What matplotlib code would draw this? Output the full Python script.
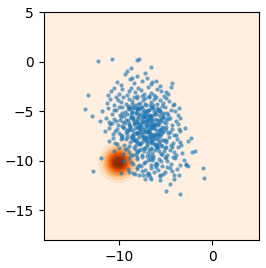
import matplotlib
matplotlib.use("Agg")
import matplotlib.pyplot as plt
import numpy as np

# scatter points (x, y), grouped by y band
pt_x = [
    # outliers
    -12.2, -10.7, -8.0, -7.8, -6.6, -9.1, -8.7, -8.6, -13.3, -13.6,
    -12.9, -4.3, -4.4, -5.0, -6.4, -10.5, -4.1, -3.7, -1.0, -0.9,
    -5.0, -3.5, -4.5, -12.8, -11.9, -2.2, -1.8, -2.3, -2.8,
    # y -1 .. -2.5
    -9.3, -8.8, -8.1, -7.5, -7.0, -6.5, -9.8, -8.4, -7.2, -6.0, -5.6, -10.2,
    # y -2.5 .. -3.5
    -10.8, -10.0, -9.6, -9.1, -8.7, -8.3, -8.0, -7.6, -7.3, -6.9,
    -6.6, -6.2, -5.9, -5.5, -5.2, -4.7, -8.9, -7.9, -6.8, -11.2,
    # y -3.5 .. -4.5
    -11.3, -10.9, -10.5, -10.1, -9.8, -9.5, -9.2, -8.9, -8.6, -8.3,
    -8.0, -7.7, -7.4, -7.1, -6.8, -6.5, -6.2, -5.9, -5.6, -5.3,
    -5.0, -4.6, -4.2, -9.0, -8.4, -7.9, -7.2, -6.7, -6.0, -10.3,
    -5.4, -7.5,
    # y -4.5 .. -5.5
    -11.8, -11.2, -10.7, -10.3, -9.9, -9.6, -9.3, -9.0, -8.7, -8.4,
    -8.1, -7.8, -7.5, -7.2, -6.9, -6.6, -6.3, -6.0, -5.7, -5.4,
    -5.1, -4.8, -4.4, -4.0, -3.6, -9.4, -8.9, -8.2, -7.7, -7.0,
    -6.5, -6.1, -5.6, -10.0, -8.6, -7.3, -6.8, -5.9, -9.7, -8.0,
    -7.4, -6.4, -5.2, -10.5, -9.1, -7.9, -6.2, -4.7, -8.5, -7.1,
    # y -5.5 .. -6.5
    -12.0, -11.4, -10.9, -10.5, -10.1, -9.8, -9.5, -9.2, -8.9, -8.6,
    -8.3, -8.0, -7.7, -7.4, -7.1, -6.8, -6.5, -6.2, -5.9, -5.6,
    -5.3, -5.0, -4.7, -4.3, -3.9, -3.4, -9.7, -9.0, -8.4, -7.9,
    -7.3, -6.9, -6.4, -6.0, -5.5, -10.3, -8.7, -7.6, -7.0, -6.6,
    -6.1, -5.2, -4.5, -9.3, -8.1, -7.2, -6.3, -5.7, -8.8, -7.5,
    -6.7, -10.7, -9.9, -8.5, -7.8, -6.9, -5.8, -4.9, -11.0, -3.7,
    # y -6.5 .. -7.5
    -11.5, -11.0, -10.6, -10.2, -9.8, -9.5, -9.2, -8.9, -8.6, -8.3,
    -8.0, -7.7, -7.4, -7.1, -6.8, -6.5, -6.2, -5.9, -5.6, -5.3,
    -5.0, -4.7, -4.3, -3.9, -3.4, -2.9, -9.6, -9.0, -8.4, -7.8,
    -7.2, -6.7, -6.3, -5.8, -5.2, -10.4, -8.8, -7.5, -6.9, -6.0,
    -5.5, -4.5, -9.4, -8.1, -7.3, -6.6, -5.7, -4.9, -8.5, -7.0,
    -6.4, -10.0, -9.1, -7.9, -6.1, -5.4, -4.1, -3.6, -7.6, -6.8,
    # y -7.5 .. -8.5
    -11.0, -10.6, -10.2, -9.8, -9.4, -9.1, -8.8, -8.5, -8.2, -7.9,
    -7.6, -7.3, -7.0, -6.7, -6.4, -6.1, -5.8, -5.5, -5.2, -4.9,
    -4.6, -4.2, -3.8, -3.3, -2.6, -9.6, -8.9, -8.3, -7.7, -7.1,
    -6.6, -6.0, -5.4, -10.4, -8.6, -7.4, -6.8, -6.2, -5.0, -4.4,
    -9.2, -8.0, -7.2, -6.5, -5.7, -8.7, -7.8, -6.9, -5.9, -3.5,
    # y -8.5 .. -9.5
    -10.5, -10.0, -9.5, -9.1, -8.7, -8.4, -8.1, -7.8, -7.5, -7.2,
    -6.9, -6.6, -6.3, -6.0, -5.7, -5.4, -5.1, -4.8, -4.5, -4.1,
    -3.7, -3.2, -9.3, -8.5, -7.9, -7.3, -6.7, -6.1, -5.5, -4.9,
    -8.9, -7.6, -7.0, -6.4, -5.8, -5.2, -4.3, -8.2, -6.8, -3.9,
    # y -9.5 .. -10.5
    -9.4, -8.9, -8.5, -8.1, -7.8, -7.5, -7.2, -6.9, -6.6, -6.3,
    -6.0, -5.7, -5.4, -5.1, -4.8, -4.4, -4.0, -3.5, -3.0, -8.7,
    -8.0, -7.3, -6.7, -6.1, -5.5, -4.9, -7.6, -6.4, -5.9, -4.2,
    # y -10.5 .. -11.5
    -9.0, -8.5, -8.0, -7.5, -7.0, -6.6, -6.2, -5.8, -5.3, -4.8,
    -4.3, -3.8, -7.8, -6.9, -6.0, -5.1, -4.5, -8.3, -7.2, -5.6,
    # lower fringe
    -5.6, -4.1, -3.6, -2.8, -2.6, -5.6, -4.1, -6.5, -6.7, -9.8,
    -8.9, -8.1, -7.4, -7.2, -6.8,
    # dense core
    -8.8, -8.2, -7.6, -7.0, -6.4, -5.8, -8.5, -7.9, -7.3, -6.7,
    -6.1, -5.5, -8.7, -8.1, -7.5, -6.9, -6.3, -5.7, -8.4, -7.8,
    -7.2, -6.6, -6.0, -5.4, -8.6, -8.0, -7.4, -6.8, -6.2, -5.6,
    -8.3, -7.7, -7.1, -6.5, -5.9, -8.9, -7.9, -7.0, -6.3, -5.3,
    -8.55, -7.95, -7.35, -6.75, -6.15, -5.55, -8.25, -7.65, -7.05, -6.45,
    -5.85, -8.45, -7.85, -7.25, -6.65, -6.05, -5.45, -8.15, -7.55, -6.95,
    -6.35, -5.75, -8.65, -8.05, -7.45, -6.85, -6.25, -5.65, -7.15, -6.55,
    -9.15, -8.35, -7.75, -7.05, -6.45, -5.95, -8.75, -7.35, -6.75, -5.35,
]
pt_y = [
    # outliers
    0.1, 0.3, 0.2, 0.3, -0.5, -0.9, -0.6, -1.6, -3.4, -4.8,
    -5.5, -2.2, -2.6, -3.1, -2.1, -2.7, -4.3, -5.4, -10.7, -11.7,
    -13.0, -13.3, -12.3, -11.0, -9.7, -9.1, -9.0, -7.7, -10.3,
    # y -1 .. -2.5
    -1.2, -1.8, -1.4, -2.0, -1.6, -2.3, -2.4, -2.2, -1.1, -2.0, -2.5, -2.1,
    # y -2.5 .. -3.5
    -3.0, -3.3, -2.8, -3.4, -2.7, -3.1, -3.5, -2.9, -3.3, -2.6,
    -3.2, -3.4, -2.8, -3.0, -3.5, -3.3, -3.0, -2.7, -3.5, -3.4,
    # y -3.5 .. -4.5
    -4.2, -3.8, -4.4, -3.9, -4.1, -3.6, -4.3, -3.8, -4.0, -4.4,
    -3.7, -4.2, -3.9, -4.4, -3.6, -4.1, -3.8, -4.3, -3.9, -4.2,
    -3.7, -4.0, -4.4, -4.5, -3.6, -4.3, -3.7, -4.4, -3.6, -3.6,
    -4.5, -3.5,
    # y -4.5 .. -5.5
    -5.0, -4.7, -5.3, -4.9, -5.4, -4.6, -5.1, -4.8, -5.3, -4.7,
    -5.0, -5.4, -4.6, -5.2, -4.9, -5.5, -4.7, -5.1, -4.8, -5.3,
    -4.6, -5.2, -4.9, -5.0, -4.7, -5.5, -4.6, -5.2, -4.8, -5.4,
    -4.7, -5.3, -5.0, -4.6, -5.1, -4.9, -5.4, -4.7, -5.2, -4.8,
    -5.5, -4.6, -5.2, -4.9, -5.3, -4.7, -5.0, -5.4, -4.6, -5.1,
    # y -5.5 .. -6.5
    -6.0, -5.7, -6.3, -5.8, -6.4, -5.6, -6.1, -5.9, -6.4, -5.7,
    -6.2, -5.8, -6.5, -5.6, -6.0, -6.3, -5.7, -6.4, -5.9, -6.1,
    -5.6, -6.2, -5.8, -6.4, -6.0, -5.7, -6.5, -5.9, -6.3, -5.6,
    -6.1, -5.8, -6.5, -6.2, -5.7, -6.0, -5.6, -6.3, -5.9, -6.4,
    -5.8, -6.1, -5.7, -6.2, -6.0, -5.6, -6.3, -5.9, -6.5, -6.1,
    -5.7, -6.2, -5.9, -5.6, -6.3, -6.0, -6.4, -5.8, -6.1, -6.3,
    # y -6.5 .. -7.5
    -7.0, -6.7, -7.3, -6.8, -7.4, -6.6, -7.1, -6.9, -7.4, -6.7,
    -7.2, -6.8, -7.5, -6.6, -7.0, -7.3, -6.7, -7.4, -6.9, -7.1,
    -6.6, -7.2, -6.8, -7.4, -7.0, -6.7, -7.5, -6.9, -7.3, -6.6,
    -7.1, -6.8, -7.5, -7.2, -6.7, -7.0, -6.6, -7.3, -6.9, -7.4,
    -6.8, -7.1, -6.7, -7.2, -7.0, -6.6, -7.3, -6.9, -7.5, -7.1,
    -6.7, -7.2, -6.9, -6.6, -7.3, -7.0, -7.4, -6.8, -7.1, -7.3,
    # y -7.5 .. -8.5
    -8.0, -7.7, -8.3, -7.8, -8.4, -7.6, -8.1, -7.9, -8.4, -7.7,
    -8.2, -7.8, -8.5, -7.6, -8.0, -8.3, -7.7, -8.4, -7.9, -8.1,
    -7.6, -8.2, -7.8, -8.4, -8.0, -7.7, -8.5, -7.9, -8.3, -7.6,
    -8.1, -7.8, -8.5, -8.2, -7.7, -8.0, -7.6, -8.3, -7.9, -8.4,
    -7.8, -8.1, -7.7, -8.2, -8.0, -7.6, -8.3, -7.9, -8.5, -8.1,
    # y -8.5 .. -9.5
    -9.0, -8.7, -9.3, -8.8, -9.4, -8.6, -9.1, -8.9, -9.4, -8.7,
    -9.2, -8.8, -9.5, -8.6, -9.0, -9.3, -8.7, -9.4, -8.9, -9.1,
    -8.6, -9.2, -8.8, -9.4, -9.0, -8.7, -9.5, -8.9, -9.3, -8.6,
    -9.1, -8.8, -9.5, -9.2, -8.7, -9.0, -8.6, -9.3, -8.9, -9.4,
    # y -9.5 .. -10.5
    -10.0, -9.7, -10.3, -9.8, -10.4, -9.6, -10.1, -9.9, -10.4, -9.7,
    -10.2, -9.8, -10.5, -9.6, -10.0, -10.3, -9.7, -10.4, -9.9, -10.1,
    -9.6, -10.2, -9.8, -10.4, -10.0, -9.7, -10.5, -9.9, -10.3, -9.6,
    # y -10.5 .. -11.5
    -10.8, -11.2, -10.6, -11.0, -11.4, -10.7, -11.1, -10.9, -11.3, -10.6,
    -11.0, -10.8, -11.4, -11.2, -10.6, -11.1, -10.7, -11.3, -10.9, -11.5,
    # lower fringe
    -11.9, -11.8, -11.4, -10.4, -10.5, -11.4, -11.4, -11.8, -11.6, -11.2,
    -11.1, -10.8, -11.4, -11.8, -11.3,
    # dense core
    -4.8, -5.2, -4.6, -5.0, -5.4, -4.9, -5.8, -6.2, -5.6, -6.0,
    -6.4, -5.9, -6.8, -7.2, -6.6, -7.0, -7.4, -6.9, -7.8, -8.2,
    -7.6, -8.0, -8.4, -7.9, -4.3, -4.7, -5.1, -5.5, -6.6, -7.5,
    -8.8, -5.3, -6.3, -7.7, -8.6, -6.2, -7.1, -8.1, -4.4, -5.6,
    -5.05, -4.65, -5.35, -4.85, -5.25, -4.95, -6.15, -5.75, -6.35, -5.85,
    -6.25, -6.95, -7.35, -6.75, -7.15, -6.85, -7.25, -8.05, -7.65, -8.35,
    -7.85, -8.25, -5.55, -6.55, -5.95, -6.45, -7.55, -5.35, -4.25, -8.75,
    -7.25, -5.95, -6.85, -7.95, -6.05, -8.45, -4.65, -9.05, -5.65, -6.55,
]

# orange density blob: centre and spread
blob_center = [-10.0, -10.15]
blob_sigma = [1.0, 0.95]

x_lim = [-18, 5]
y_lim = [-18, 5]
x_ticks = [-10, 0]
y_ticks = [5, 0, -5, -10, -15]

fig = plt.figure(figsize=(2.66, 2.68), dpi=100)
ax = fig.add_axes([0.165, 0.104, 0.809, 0.851])

gx = np.linspace(x_lim[0], x_lim[1], 300)
gy = np.linspace(y_lim[0], y_lim[1], 300)
GX, GY = np.meshgrid(gx, gy)
Z = np.exp(-0.5 * (((GX - blob_center[0]) / blob_sigma[0]) ** 2
                   + ((GY - blob_center[1]) / blob_sigma[1]) ** 2))
ax.contourf(GX, GY, Z, levels=np.linspace(0, Z.max(), 11), cmap='Oranges')

ax.scatter(pt_x, pt_y, s=9, color='#1f77b4', alpha=0.65, linewidths=0)

ax.set_xlim(x_lim)
ax.set_ylim(y_lim)
ax.set_xticks(x_ticks)
ax.set_yticks(y_ticks)

fig.savefig('out.png', dpi=100)
